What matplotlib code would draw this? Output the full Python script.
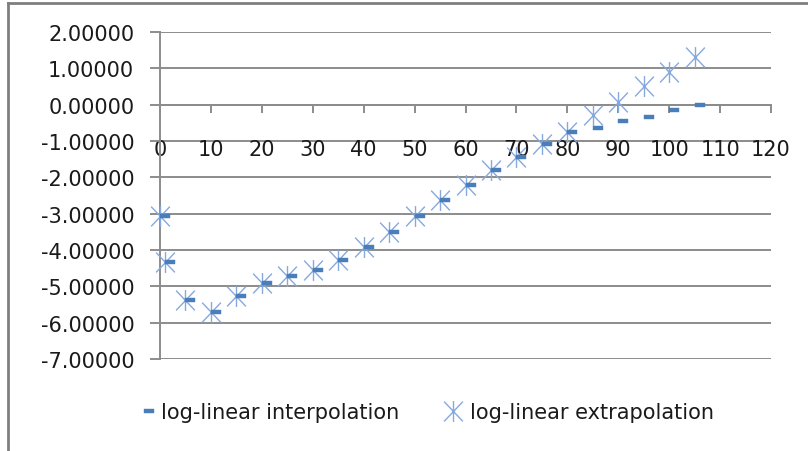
import matplotlib
matplotlib.use("Agg")
import matplotlib.pyplot as plt
from matplotlib.path import Path
from matplotlib.lines import Line2D
import numpy as np

# ---- data ----
x_vals = [0, 1, 5, 10, 15, 20, 25, 30, 35, 40, 45, 50, 55, 60, 65, 70, 75, 80,
          85, 90, 95, 100, 105]
interpolation = [-3.06, -4.32, -5.37, -5.70, -5.26, -4.90, -4.71, -4.54, -4.27,
                 -3.91, -3.50, -3.06, -2.63, -2.20, -1.79, -1.43, -1.07, -0.74,
                 -0.63, -0.44, -0.33, -0.14, 0.00]
extrapolation = [-3.06, -4.32, -5.37, -5.70, -5.26, -4.90, -4.71, -4.54, -4.27,
                 -3.91, -3.50, -3.06, -2.63, -2.20, -1.79, -1.43, -1.07, -0.74,
                 -0.28, 0.08, 0.51, 0.91, 1.32]
x_ticks = [0, 10, 20, 30, 40, 50, 60, 70, 80, 90, 100, 110, 120]
y_ticks = [2, 1, 0, -1, -2, -3, -4, -5, -6, -7]
labels = ["log-linear interpolation", "log-linear extrapolation"]

plt.rcParams['font.family'] = ['DejaVu Sans']
plt.rcParams['axes.unicode_minus'] = False

W, H = 808, 452
fig = plt.figure(figsize=(W / 100, H / 100), dpi=100)
ax = fig.add_axes([160 / W, 1 - 360 / H, (771 - 160) / W, (360 - 33) / H])

# custom markers
star_path = Path(
    [(0, -1), (0, 1), (-0.9, -0.95), (0.9, 0.95), (-0.9, 0.95), (0.9, -0.95)],
    [Path.MOVETO, Path.LINETO, Path.MOVETO, Path.LINETO, Path.MOVETO, Path.LINETO])
dash_path = Path(
    [(0, -0.22), (1, -0.22), (1, 0.22), (0, 0.22), (0, -0.22)],
    [Path.MOVETO, Path.LINETO, Path.LINETO, Path.LINETO, Path.CLOSEPOLY])

star_color = '#86A9DD'
dash_color = '#4A7EBB'

ax.plot(x_vals, extrapolation, linestyle='none', marker=star_path, markersize=15,
        markeredgecolor=star_color, markerfacecolor='none', markeredgewidth=1.0,
        clip_on=False, zorder=3)
ax.plot(x_vals, interpolation, linestyle='none', marker=dash_path, markersize=14.4,
        markeredgecolor=dash_color, markerfacecolor=dash_color, markeredgewidth=0.3,
        clip_on=False, zorder=4)

ax.set_xlim(0, 120)
ax.set_ylim(-7, 2)
ax.set_xticks(x_ticks)
ax.set_yticks(y_ticks)
ax.set_yticklabels([f"{v:.5f}" for v in y_ticks])
ax.set_xticklabels([str(v) for v in x_ticks])

grid_color = '#8C8C8C'
for yv in y_ticks:
    ax.axhline(yv, color=grid_color, linewidth=1.4, zorder=1)

for s in ['top', 'right']:
    ax.spines[s].set_visible(False)
ax.spines['left'].set_color(grid_color)
ax.spines['left'].set_linewidth(1.4)
ax.spines['bottom'].set_position(('data', 0))
ax.spines['bottom'].set_color(grid_color)
ax.spines['bottom'].set_linewidth(1.4)

ax.tick_params(axis='y', direction='out', length=7.5, width=1.4, color=grid_color,
               pad=11, labelsize=15, labelcolor='#1a1a1a')
ax.tick_params(axis='x', direction='out', length=5.5, width=1.4, color=grid_color,
               pad=19, labelsize=15, labelcolor='#1a1a1a')

# legend
h1 = Line2D([], [], linestyle='none', marker=dash_path, markersize=14.4,
            markeredgecolor=dash_color, markerfacecolor=dash_color, markeredgewidth=0.3)
h2 = Line2D([], [], linestyle='none', marker=star_path, markersize=15,
            markeredgecolor=star_color, markerfacecolor='none', markeredgewidth=1.0)
fig.legend([h1, h2], labels, loc='center', bbox_to_anchor=(425 / W, 1 - 413 / H),
           ncol=2, frameon=False, fontsize=15, handlelength=0.8, handletextpad=0.4,
           columnspacing=2.2, labelcolor='#1a1a1a')

# chart border (top and left visible)
fig.add_artist(Line2D([8 / W, 1], [1 - 4 / H, 1 - 4 / H], transform=fig.transFigure,
                      color='#7F7F7F', linewidth=2))
fig.add_artist(Line2D([8 / W, 8 / W], [0, 1 - 4 / H], transform=fig.transFigure,
                      color='#7F7F7F', linewidth=2))

fig.savefig('out.png', dpi=100)
